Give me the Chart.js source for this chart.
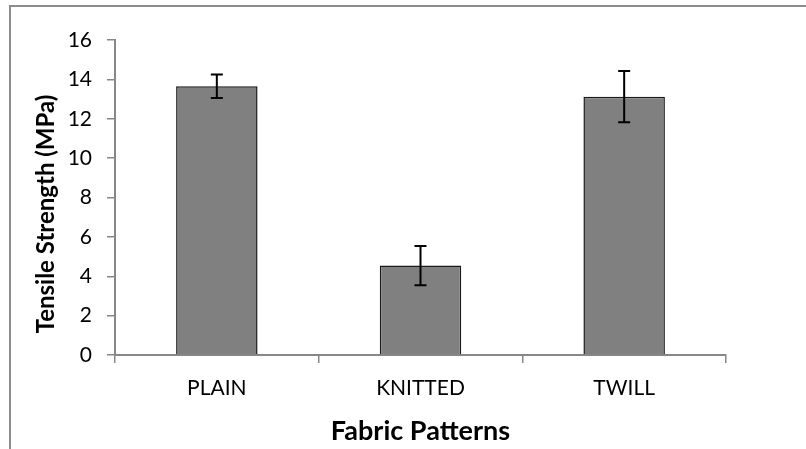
<!DOCTYPE html>
<html>
<head>
<meta charset="utf-8">
<script src="https://cdn.jsdelivr.net/npm/chart.js@4/dist/chart.umd.min.js"></script>
<style>
  html, body { margin: 0; padding: 0; background: #fff; }
  #wrap { position: relative; width: 806px; height: 449px; overflow: hidden; }
  #frame { position: absolute; left: 9px; top: 5px; width: 820px; height: 460px;
           border-left: 2px solid #8c8c8c; border-top: 2px solid #8c8c8c; box-sizing: border-box; }
  canvas { position: absolute; left: 0; top: 0; }
</style>
</head>
<body>
<div id="wrap">
  <div id="frame"></div>
  <canvas id="c" width="806" height="449"></canvas>
</div>
<script>
const categories = ['PLAIN', 'KNITTED', 'TWILL'];
const strength = [13.65, 4.54, 13.12];
const strengthError = [0.6, 1.0, 1.3];
const yMin = 0, yMax = 16, yStep = 2;
const xTitle = 'Fabric Patterns';
const yTitle = 'Tensile Strength (MPa)';

const errorBars = {
  id: 'errorBars',
  afterDatasetsDraw(chart) {
    const ctx = chart.ctx;
    const meta = chart.getDatasetMeta(0);
    const y = chart.scales.y;
    ctx.save();
    ctx.strokeStyle = '#000';
    ctx.lineWidth = 2;
    meta.data.forEach((bar, i) => {
      const v = strength[i], e = strengthError[i];
      const x = bar.x;
      const yt = y.getPixelForValue(v + e);
      const yb = y.getPixelForValue(v - e);
      const cap = 6;
      ctx.beginPath();
      ctx.moveTo(x, yt); ctx.lineTo(x, yb);
      ctx.moveTo(x - cap, yt); ctx.lineTo(x + cap, yt);
      ctx.moveTo(x - cap, yb); ctx.lineTo(x + cap, yb);
      ctx.stroke();
    });
    ctx.restore();
  }
};

new Chart(document.getElementById('c'), {
  type: 'bar',
  data: {
    labels: categories,
    datasets: [{
      data: strength,
      backgroundColor: '#808080',
      borderColor: '#1a1a1a',
      borderWidth: 1.5,
      barPercentage: 0.4,
      categoryPercentage: 1.0
    }]
  },
  options: {
    responsive: false,
    animation: false,
    devicePixelRatio: 1,
    layout: { padding: { top: 40, right: 80, bottom: 0, left: 0 } },
    plugins: { legend: { display: false }, tooltip: { enabled: false } },
    scales: {
      x: {
        offset: true,
        grid: { display: true, drawOnChartArea: false, drawTicks: true, tickLength: 8, offset: true, color: '#878787', lineWidth: 1.5 },
        border: { display: true, color: '#878787', width: 2 },
        ticks: { color: '#000', font: { family: 'Lato', size: 21 }, padding: 13, maxRotation: 0 },
        title: { display: true, text: xTitle, color: '#000', font: { family: 'Lato', size: 27, weight: 'bold' }, padding: { top: 0, bottom: 2 } },
        afterFit(scale) { scale.height = 94; }
      },
      y: {
        min: yMin, max: yMax,
        ticks: { stepSize: yStep, color: '#000', font: { family: 'Lato', size: 21 }, padding: 15 },
        grid: { display: true, drawOnChartArea: false, drawTicks: true, tickLength: 8, color: '#878787', lineWidth: 1.5 },
        border: { display: true, color: '#878787', width: 2 },
        title: { display: true, text: yTitle + '\u2003\u2002\u2009', color: '#000', font: { family: 'Lato', size: 24, weight: 'bold' }, padding: { top: 32, bottom: 0 } },
        afterFit(scale) { scale.width = 115; }
      }
    }
  },
  plugins: [errorBars]
});
</script>
</body>
</html>
